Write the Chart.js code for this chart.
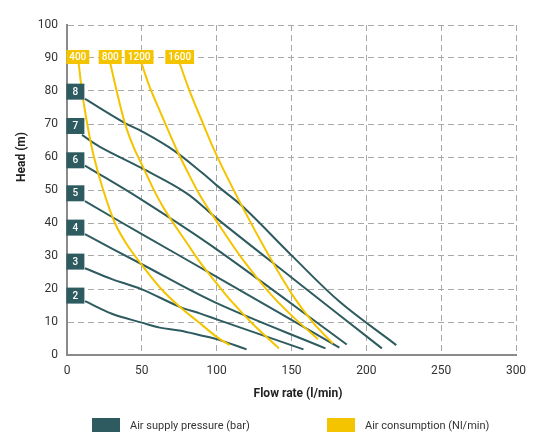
<!DOCTYPE html>
<html>
<head>
<meta charset="utf-8">
<script src="https://cdn.jsdelivr.net/npm/chart.js@4/dist/chart.umd.min.js"></script>
<style>
  html, body { margin: 0; padding: 0; background: #fff; }
  #wrap { position: relative; width: 545px; height: 444px; }
  #legend { position: absolute; left: 0; top: 418px; width: 545px; height: 16px;
            font: 11px Roboto, Arial, sans-serif; color: #333; }
  .item { position: absolute; top: 0; display: flex; align-items: center; }
  .box { width: 28px; height: 14px; margin-right: 10px; }
</style>
</head>
<body>
<div id="wrap">
  <canvas id="pumpChart" width="545" height="444"></canvas>
  <div id="legend">
    <div class="item" style="left:92px"><span class="box" style="background:#2e5b5f"></span>Air supply pressure (bar)</div>
    <div class="item" style="left:327px"><span class="box" style="background:#f5c400"></span>Air consumption (Nl/min)</div>
  </div>
</div>
<script>
const TEAL = "#2e5b5f";
const YELLOW = "#f5c400";

// air supply pressure curves (bar) : [flow, head]
const pressureLabels = ["2", "3", "4", "5", "6", "7", "8"];
const pressureLabelX = 5.6;
const pressureLabelY = [18, 28.3, 38.6, 49, 59, 69.4, 79.8];
const p2 = [[12,16.3],[30,12.5],[50,9.8],[62,8.3],[75,7.4],[89,6],[100,4.8],[120,1.7]];
const p3 = [[12,26.3],[30,23],[50,19.9],[75.3,14.6],[88.7,12.6],[100,10.8],[158,1.7]];
const p4 = [[12,36.6],[50,27.5],[100,15.7],[172.7,2]];
const p5 = [[12,46.6],[50,36.6],[100,23.7],[182,2.2]];
const p6 = [[12,57.4],[50,47],[100,32],[186.9,3.2]];
const p7 = [[10,66.7],[22,63.1],[50,56.6],[80,49],[100,41.4],[150,23.5],[210.4,2]];
const p8 = [[12,77.6],[39,70.2],[50,67.8],[71,62.1],[90.9,55],[100,51.4],[117.6,44.9],[150.9,29.8],[182,16.2],[220,3]];

// air consumption curves (Nl/min)
const consumptionLabels = ["400", "800", "1200", "1600"];
const consumptionLabelX = [7.2, 28.9, 48.2, 75.3];
const consumptionLabelY = 90.3;
const c400 = [[7.8,88.4],[10,80],[13.5,70],[18,60],[24.2,50],[32,40],[40,33.5],[50,27.3],[63,20],[75.3,14.6],[87,10.3],[100,5.5],[108.7,3]];
const c800 = [[28.9,88.4],[33.2,80],[38.7,70.2],[44.5,63],[51,56.8],[57.5,50.5],[64,45],[71,40],[80,34],[88.7,28.2],[100,21.7],[111,15.7],[125,9],[141.6,2]];
const c1200 = [[49.8,88.4],[55,81.5],[62,74],[73,62.5],[80,56],[88.7,48.5],[100,40.5],[117.6,28.8],[135,19],[150,12],[167.6,4.8]];
const c1600 = [[75.3,88.4],[81.5,80.5],[88.7,72.5],[100,60.5],[117.6,44.5],[135.3,29.8],[150.9,18],[165,9.5],[177.6,3.5]];

const pressureCurves = [p2, p3, p4, p5, p6, p7, p8];
const consumptionCurves = [c400, c800, c1200, c1600];

function toPoints(arr) {
  return arr.map(p => ({ x: p[0], y: p[1] }));
}

function lineSet(arr, color) {
  return {
    data: toPoints(arr),
    borderColor: color,
    borderWidth: 2,
    pointRadius: 0,
    tension: 0.35,
    fill: false
  };
}

const datasets = [];
consumptionCurves.forEach(c => datasets.push(lineSet(c, YELLOW)));
pressureCurves.forEach(c => datasets.push(lineSet(c, TEAL)));

const labelPlugin = {
  id: "curveLabels",
  afterDatasetsDraw(chart) {
    const { ctx, scales: { x, y } } = chart;
    ctx.save();
    ctx.textAlign = "center";
    ctx.textBaseline = "middle";
    ctx.font = "500 10px Roboto";
    pressureLabels.forEach((t, i) => {
      const px = x.getPixelForValue(pressureLabelX);
      const py = y.getPixelForValue(pressureLabelY[i]);
      ctx.fillStyle = TEAL;
      ctx.fillRect(px - 9, py - 8, 18, 16);
      ctx.fillStyle = "#fff";
      ctx.fillText(t, px, py + 0.5);
    });
    consumptionLabels.forEach((t, i) => {
      const px = x.getPixelForValue(consumptionLabelX[i]);
      const py = y.getPixelForValue(consumptionLabelY);
      const w = ctx.measureText(t).width + 6;
      ctx.fillStyle = YELLOW;
      ctx.fillRect(px - w / 2, py - 7, w, 14);
      ctx.fillStyle = "#fff";
      ctx.fillText(t, px, py + 0.5);
    });
    ctx.restore();
  },
  afterDraw(chart) {
    const ctx = chart.ctx;
    ctx.save();
    ctx.fillStyle = "#222";
    ctx.font = "bold 12px Roboto";
    ctx.textAlign = "center";
    ctx.textBaseline = "middle";
    ctx.fillText("Flow rate (l/min)", 298, 394);
    ctx.translate(22, 157);
    ctx.rotate(-Math.PI / 2);
    ctx.fillText("Head (m)", 0, 0);
    ctx.restore();
  }
};

new Chart(document.getElementById("pumpChart"), {
  type: "line",
  data: { datasets: datasets },
  plugins: [labelPlugin],
  options: {
    responsive: false,
    animation: false,
    layout: { padding: { left: 0, right: 29, top: 25, bottom: 0 } },
    plugins: {
      legend: { display: false },
      tooltip: { enabled: false }
    },
    scales: {
      x: {
        type: "linear",
        min: 0,
        max: 300,
        ticks: { stepSize: 50, padding: 9, color: "#333", font: { family: "Roboto", size: 12 } },
        grid: { color: "#a8a8a8", lineWidth: 1, drawTicks: false },
        border: { display: true, color: "#8a8a8a", width: 2, dash: [6, 4] },
        afterFit(scale) { scale.height = 89; }
      },
      y: {
        type: "linear",
        min: 0,
        max: 100,
        ticks: { stepSize: 10, padding: 9, color: "#333", font: { family: "Roboto", size: 12 } },
        grid: { color: "#a8a8a8", lineWidth: 1, drawTicks: false },
        border: { display: true, color: "#8a8a8a", width: 2, dash: [6, 4] },
        afterFit(scale) { scale.width = 67; }
      }
    }
  }
});
</script>
</body>
</html>
